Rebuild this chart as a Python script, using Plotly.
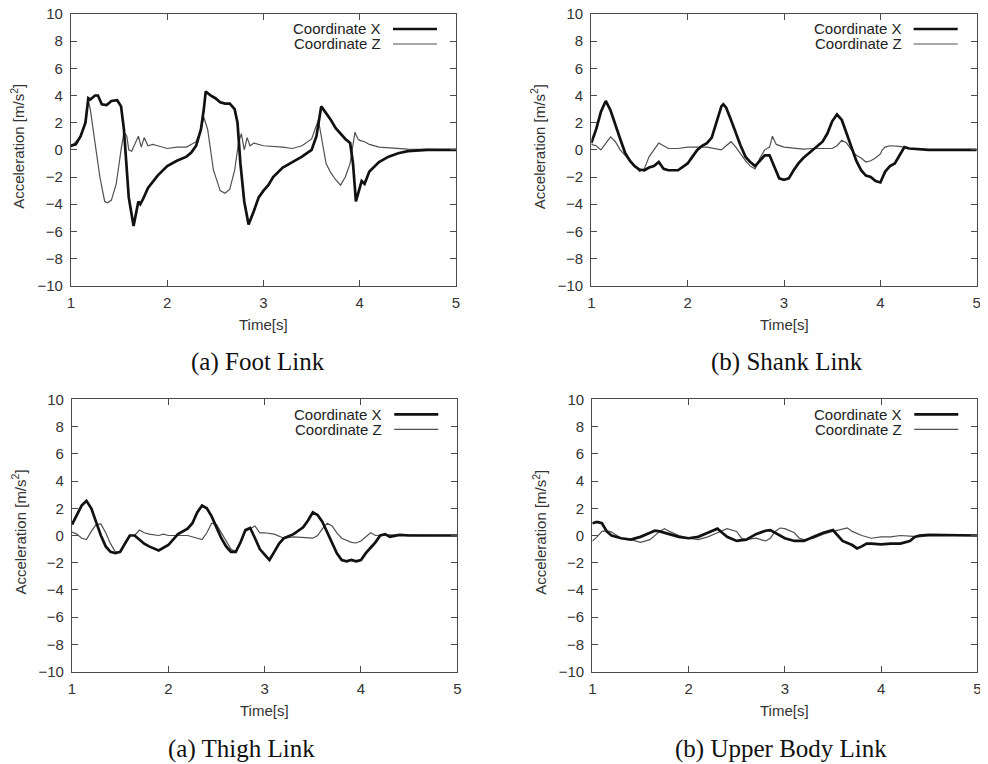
import plotly.graph_objects as go

# ---------------- data ----------------
foot_x_t = [1.0, 1.05, 1.1, 1.15, 1.18, 1.2, 1.25, 1.28, 1.32, 1.37, 1.42, 1.48, 1.52, 1.55, 1.565, 1.6, 1.65,
            1.68, 1.7, 1.72, 1.75, 1.8, 1.9, 2.0, 2.1, 2.2, 2.25, 2.3, 2.35, 2.38, 2.4, 2.45, 2.5, 2.55, 2.6,
            2.65, 2.7, 2.73, 2.76, 2.8, 2.845, 2.9, 2.95, 3.0, 3.05, 3.1, 3.2, 3.3, 3.4, 3.5, 3.55, 3.6, 3.65,
            3.7, 3.75, 3.8, 3.85, 3.9, 3.93, 3.96, 4.0, 4.02, 4.05, 4.1, 4.2, 4.3, 4.4, 4.5, 4.7, 5.0]
foot_x_v = [0.3, 0.4, 1.0, 2.0, 3.8, 3.7, 4.0, 4.0, 3.35, 3.3, 3.6, 3.65, 3.2, 1.5, 0.0, -3.5, -5.6,
            -4.5, -3.8, -4.0, -3.6, -2.8, -1.9, -1.2, -0.8, -0.5, -0.2, 0.3, 1.5, 3.0, 4.3, 4.0, 3.8, 3.5, 3.4,
            3.4, 3.0, 2.0, -1.0, -3.8, -5.5, -4.5, -3.5, -3.0, -2.6, -2.0, -1.3, -0.9, -0.5, 0.0, 1.0, 3.2, 2.7,
            2.2, 1.6, 1.2, 0.8, 0.5, -1.0, -3.8, -2.8, -2.3, -2.5, -1.6, -0.9, -0.5, -0.25, -0.1, 0.0, 0.0]
foot_z_t = [1.0, 1.1, 1.15, 1.18, 1.2, 1.25, 1.3, 1.35, 1.38, 1.42, 1.47, 1.52, 1.55, 1.58, 1.6, 1.63, 1.67,
            1.7, 1.73, 1.76, 1.8, 1.85, 1.9, 2.0, 2.1, 2.2, 2.3, 2.35, 2.38, 2.42, 2.48, 2.55, 2.6, 2.65, 2.7,
            2.74, 2.77, 2.8, 2.83, 2.86, 2.9, 3.0, 3.2, 3.3, 3.4, 3.5, 3.55, 3.57, 3.6, 3.65, 3.7, 3.75, 3.8,
            3.85, 3.9, 3.93, 3.95, 3.98, 4.0, 4.05, 4.1, 4.2, 4.3, 4.5, 5.0]
foot_z_v = [0.2, 1.0, 2.0, 3.6, 3.0, 0.5, -2.0, -3.8, -3.9, -3.7, -2.5, 0.0, 1.3, 1.0, 0.0, -0.1, 0.6,
            1.0, 0.2, 0.9, 0.3, 0.4, 0.3, 0.1, 0.2, 0.2, 0.6, 1.5, 2.4, 1.5, -1.5, -3.0, -3.2, -2.9, -1.5,
            0.5, 1.2, 0.0, 0.9, 0.3, 0.5, 0.3, 0.2, 0.1, 0.3, 0.8, 1.8, 2.2, 1.0, -1.0, -1.7, -2.2, -2.6,
            -2.0, -1.0, 0.5, 1.3, 0.8, 0.7, 0.6, 0.4, 0.2, 0.15, 0.05, 0.0]

shank_x_t = [1.0, 1.05, 1.1, 1.15, 1.2, 1.25, 1.3, 1.35, 1.4, 1.45, 1.5, 1.55, 1.6, 1.65, 1.7, 1.75, 1.8,
             1.9, 2.0, 2.05, 2.1, 2.15, 2.2, 2.25, 2.3, 2.35, 2.37, 2.4, 2.45, 2.5, 2.55, 2.6, 2.65, 2.7,
             2.75, 2.8, 2.85, 2.9, 2.95, 3.0, 3.05, 3.1, 3.15, 3.2, 3.3, 3.35, 3.4, 3.45, 3.5, 3.55, 3.6,
             3.65, 3.7, 3.75, 3.8, 3.85, 3.9, 3.95, 4.0, 4.05, 4.1, 4.15, 4.2, 4.25, 4.3, 4.4, 4.5, 5.0]
shank_x_v = [0.5, 1.5, 2.8, 3.6, 2.9, 1.8, 0.8, -0.2, -0.8, -1.2, -1.45, -1.5, -1.3, -1.2, -0.9, -1.4, -1.5,
             -1.5, -1.0, -0.5, 0.0, 0.3, 0.5, 0.9, 2.0, 3.2, 3.35, 3.1, 2.2, 1.2, 0.3, -0.5, -0.9, -1.2,
             -0.8, -0.4, -0.4, -1.3, -2.1, -2.2, -2.1, -1.5, -1.0, -0.6, 0.0, 0.3, 0.6, 1.2, 2.1, 2.6, 2.2,
             1.2, 0.2, -0.8, -1.5, -1.9, -2.0, -2.3, -2.4, -1.6, -1.2, -1.0, -0.4, 0.2, 0.1, 0.05, 0.0, 0.0]
shank_z_t = [1.0, 1.05, 1.1, 1.15, 1.2, 1.25, 1.3, 1.4, 1.5, 1.55, 1.6, 1.65, 1.7, 1.75, 1.8, 1.9, 2.0,
             2.2, 2.3, 2.35, 2.4, 2.45, 2.5, 2.55, 2.6, 2.65, 2.7, 2.75, 2.8, 2.85, 2.88, 2.92, 3.0, 3.2,
             3.3, 3.5, 3.55, 3.6, 3.65, 3.7, 3.75, 3.8, 3.85, 3.9, 3.95, 4.0, 4.02, 4.05, 4.1, 4.2, 4.3,
             4.5, 5.0]
shank_z_v = [0.4, 0.3, 0.0, 0.5, 0.95, 0.6, 0.0, -0.8, -1.6, -1.4, -0.5, 0.0, 0.5, 0.3, 0.1, 0.1, 0.2,
             0.2, 0.1, 0.0, 0.3, 0.6, 0.2, -0.3, -0.8, -1.2, -1.4, -0.6, 0.0, 0.2, 1.0, 0.4, 0.2, 0.05,
             0.1, 0.1, 0.3, 0.7, 0.5, 0.0, -0.4, -0.6, -0.9, -0.8, -0.6, -0.3, 0.0, 0.2, 0.3, 0.25, 0.1,
             0.0, 0.0]

thigh_x_t = [1.0, 1.05, 1.1, 1.15, 1.2, 1.25, 1.3, 1.35, 1.4, 1.45, 1.5, 1.55, 1.6, 1.65, 1.7, 1.75, 1.8,
             1.9, 2.0, 2.05, 2.1, 2.2, 2.25, 2.3, 2.35, 2.4, 2.45, 2.5, 2.55, 2.6, 2.65, 2.7, 2.75, 2.8,
             2.85, 2.9, 2.95, 3.0, 3.05, 3.1, 3.15, 3.2, 3.3, 3.4, 3.45, 3.5, 3.55, 3.6, 3.65, 3.7, 3.75,
             3.8, 3.85, 3.9, 3.95, 4.0, 4.05, 4.1, 4.15, 4.2, 4.25, 4.3, 4.4, 4.5, 5.0]
thigh_x_v = [0.8, 1.5, 2.2, 2.55, 2.0, 1.0, 0.0, -0.8, -1.2, -1.3, -1.2, -0.6, 0.0, 0.0, -0.3, -0.6, -0.8,
             -1.1, -0.7, -0.3, 0.1, 0.5, 0.9, 1.7, 2.2, 2.0, 1.4, 0.6, -0.2, -0.8, -1.2, -1.2, -0.5, 0.4,
             0.55, -0.2, -1.0, -1.4, -1.8, -1.2, -0.6, -0.2, 0.1, 0.6, 1.1, 1.7, 1.5, 1.0, 0.2, -0.6, -1.3,
             -1.8, -1.9, -1.8, -1.9, -1.8, -1.3, -0.9, -0.5, 0.0, 0.1, -0.1, 0.05, 0.0, 0.0]
thigh_z_t = [1.0, 1.05, 1.1, 1.15, 1.2, 1.25, 1.3, 1.35, 1.4, 1.45, 1.5, 1.55, 1.6, 1.65, 1.7, 1.75, 1.8,
             1.9, 1.95, 2.0, 2.2, 2.35, 2.4, 2.45, 2.5, 2.55, 2.6, 2.65, 2.7, 2.75, 2.8, 2.85, 2.9, 2.95,
             3.0, 3.1, 3.2, 3.3, 3.5, 3.55, 3.6, 3.65, 3.7, 3.75, 3.8, 3.9, 3.95, 4.0, 4.05, 4.1, 4.15,
             4.3, 5.0]
thigh_z_v = [0.25, 0.1, -0.2, -0.3, 0.3, 0.8, 0.85, 0.2, -0.6, -1.2, -1.2, -0.5, 0.0, 0.0, 0.4, 0.2, 0.1,
             0.0, 0.1, 0.0, 0.0, -0.3, 0.2, 0.9, 0.8, 0.2, -0.5, -1.0, -1.2, -0.5, 0.3, 0.5, 0.7, 0.2,
             0.2, 0.1, -0.2, -0.1, -0.2, 0.0, 0.5, 0.9, 0.7, 0.2, -0.2, -0.5, -0.55, -0.4, -0.1, 0.2, 0.0,
             0.05, 0.0]

upper_x_t = [1.0, 1.05, 1.1, 1.15, 1.2, 1.3, 1.4, 1.5, 1.6, 1.65, 1.7, 1.8, 1.9, 2.0, 2.1, 2.2, 2.3,
             2.35, 2.4, 2.5, 2.6, 2.7, 2.8, 2.85, 2.9, 3.0, 3.1, 3.2, 3.3, 3.4, 3.5, 3.55, 3.6, 3.7, 3.75,
             3.8, 3.85, 3.9, 4.0, 4.1, 4.2, 4.3, 4.35, 4.4, 4.5, 5.0]
upper_x_v = [0.9, 1.0, 0.9, 0.3, 0.0, -0.2, -0.3, -0.1, 0.2, 0.35, 0.3, 0.1, -0.1, -0.2, -0.1, 0.2, 0.5,
             0.2, -0.1, -0.4, -0.3, 0.1, 0.35, 0.4, 0.2, -0.2, -0.4, -0.4, -0.1, 0.2, 0.4, 0.0, -0.4, -0.7,
             -0.95, -0.8, -0.6, -0.6, -0.65, -0.6, -0.6, -0.4, -0.1, 0.0, 0.05, 0.0]
upper_z_t = [1.0, 1.05, 1.1, 1.15, 1.2, 1.3, 1.4, 1.5, 1.6, 1.7, 1.75, 1.8, 1.9, 2.0, 2.1, 2.2, 2.3, 2.4,
             2.5, 2.55, 2.6, 2.7, 2.8, 2.85, 2.9, 2.95, 3.0, 3.1, 3.15, 3.2, 3.3, 3.4, 3.5, 3.6, 3.65, 3.7,
             3.8, 3.9, 4.0, 4.1, 4.2, 4.3, 4.4, 4.5, 5.0]
upper_z_v = [-0.4, -0.1, 0.3, 0.35, 0.25, -0.2, -0.3, -0.5, -0.3, 0.3, 0.5, 0.3, 0.0, -0.2, -0.3, -0.1, 0.2,
             0.5, 0.3, -0.2, -0.3, -0.2, -0.4, -0.2, 0.3, 0.55, 0.5, 0.2, -0.2, -0.3, -0.2, 0.1, 0.3, 0.5,
             0.55, 0.3, 0.0, -0.2, -0.1, -0.1, 0.0, -0.05, -0.1, 0.0, 0.0]

panels = [
    ("(a) Foot Link", foot_x_t, foot_x_v, foot_z_t, foot_z_v),
    ("(b) Shank Link", shank_x_t, shank_x_v, shank_z_t, shank_z_v),
    ("(a) Thigh Link", thigh_x_t, thigh_x_v, thigh_z_t, thigh_z_v),
    ("(b) Upper Body Link", upper_x_t, upper_x_v, upper_z_t, upper_z_v),
]
x_ticks = [1, 2, 3, 4, 5]
y_ticks = [-10, -8, -6, -4, -2, 0, 2, 4, 6, 8, 10]
series_names = ["Coordinate X", "Coordinate Z"]

# ---------------- layout geometry ----------------
# page has an 8px body margin, so the figure is 980x756 and window pixels are shifted by 8
OFF = 8
W, H = 980, 756
boxes = [  # left, right, top, bottom in window pixels
    (71, 456, 14, 285.7),
    (591.3, 976.7, 14, 285.7),
    (72, 457.3, 399.3, 671.7),
    (592.3, 977.3, 399.3, 671.7),
]
caption_pos = [(258, 362), (787, 362), (241, 749), (781, 749)]


def px(xw):
    return (xw - OFF) / W


def py(yw):
    return 1 - (yw - OFF) / H


FONT = "Liberation Sans, Arial, Helvetica, sans-serif"
FS = 15
AXC = "#4a4a4a"
TXT = "#333333"

fig = go.Figure()
layout = dict(
    width=W, height=H, margin=dict(l=0, r=0, t=0, b=0, autoexpand=False),
    paper_bgcolor="white", plot_bgcolor="white", showlegend=False,
    font=dict(family=FONT, size=FS, color=TXT),
)
annotations = []
shapes = []

for i, (cap, xt, xv, zt, zv) in enumerate(panels):
    n = i + 1
    xa = "x" if n == 1 else f"x{n}"
    ya = "y" if n == 1 else f"y{n}"
    l, r, t, b = boxes[i]
    fig.add_trace(go.Scatter(x=zt, y=zv, mode="lines", name=series_names[1],
                             line=dict(color="#505050", width=1.2), xaxis=xa, yaxis=ya))
    fig.add_trace(go.Scatter(x=xt, y=xv, mode="lines", name=series_names[0],
                             line=dict(color="#111111", width=2.7), xaxis=xa, yaxis=ya))
    axis_common = dict(showline=True, linecolor=AXC, linewidth=1.3, mirror="ticks",
                       ticks="inside", ticklen=6, tickcolor=AXC, tickwidth=1,
                       showgrid=False, zeroline=False, automargin=False, ticklabeloverflow="allow",
                       tickfont=dict(family=FONT, size=FS, color=TXT))
    layout["xaxis" if n == 1 else f"xaxis{n}"] = dict(
        domain=[px(l), px(r)], range=[1, 5], tickvals=x_ticks, anchor=ya, ticklabelstandoff=3, **axis_common)
    layout["yaxis" if n == 1 else f"yaxis{n}"] = dict(
        domain=[py(b), py(t)], range=[-10, 10], tickvals=y_ticks, anchor=xa, ticklabelstandoff=4,
        **axis_common)
    # axis titles
    annotations.append(dict(text="Time[s]", x=px((l + r) / 2), y=py(b + 39), xref="paper", yref="paper",
                            showarrow=False, xanchor="center", yanchor="middle",
                            font=dict(family=FONT, size=FS, color=TXT)))
    annotations.append(dict(text="Acceleration [m/s<sup>2</sup>]", x=px(l - 53), y=py((t + b) / 2 - 3),
                            xref="paper", yref="paper", showarrow=False, textangle=-90,
                            xanchor="center", yanchor="middle",
                            font=dict(family=FONT, size=FS, color=TXT)))
    # caption
    cx, cy = caption_pos[i]
    annotations.append(dict(text=cap, x=px(cx), y=py(cy), xref="paper", yref="paper", showarrow=False,
                            xanchor="center", yanchor="middle",
                            font=dict(family="Liberation Serif, Times New Roman, serif", size=25, color="#111")))
    # legend (gnuplot style: text then sample line)
    for k, (nm, col, wd) in enumerate([(series_names[0], "#111111", 2.7), (series_names[1], "#505050", 1.2)]):
        ypx = t + 15 + 15 * k
        yd = (b - ypx) / (b - t)
        annotations.append(dict(text=nm, x=(383 - 71) / 385, y=yd, xref=f"{xa} domain", yref=f"{ya} domain",
                                showarrow=False, xanchor="right", yanchor="middle",
                                font=dict(family=FONT, size=FS, color="#222")))
        shapes.append(dict(type="line", xref=f"{xa} domain", yref=f"{ya} domain",
                           x0=(393 - 71) / 385, x1=(437 - 71) / 385, y0=yd, y1=yd,
                           line=dict(color=col, width=wd)))

layout["annotations"] = annotations
layout["shapes"] = shapes
fig.update_layout(**layout)
fig.write_html("out.html")
